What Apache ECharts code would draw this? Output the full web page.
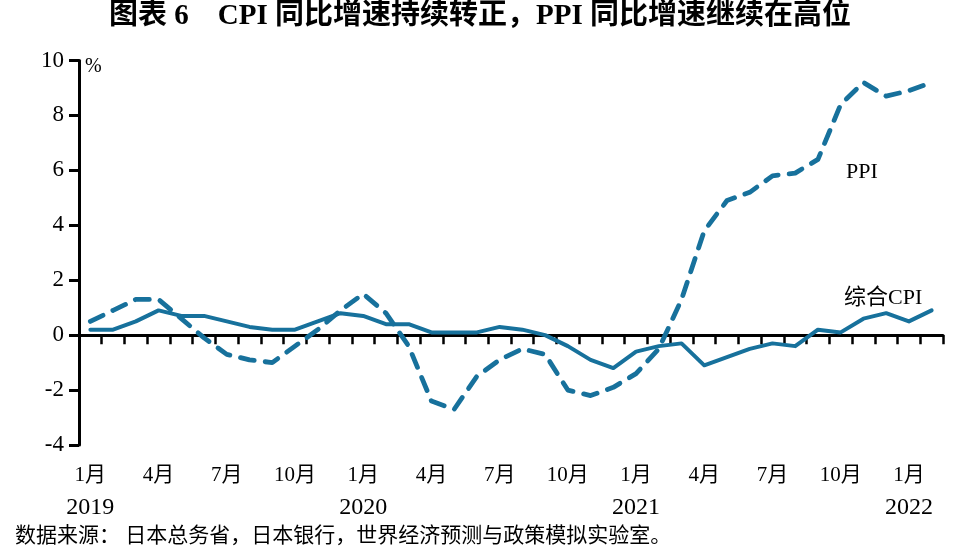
<!DOCTYPE html>
<html>
<head>
<meta charset="utf-8">
<script src="https://cdn.jsdelivr.net/npm/echarts@6/dist/echarts.min.js"></script>
<style>
html,body{margin:0;padding:0;background:#fff;}
#chart{width:960px;height:556px;}
</style>
</head>
<body>
<div id="chart"></div>
<script>
var titleText = '图表 6　CPI 同比增速持续转正，PPI 同比增速继续在高位';
var sourceText = '数据来源： 日本总务省，日本银行，世界经济预测与政策模拟实验室。';
var categories = [
  '1月\n2019','2月','3月','4月','5月','6月','7月','8月','9月','10月','11月','12月',
  '1月\n2020','2月','3月','4月','5月','6月','7月','8月','9月','10月','11月','12月',
  '1月\n2021','2月','3月','4月','5月','6月','7月','8月','9月','10月','11月','12月',
  '1月\n2022','2月'
];
var cpi = [
  0.2, 0.2, 0.5, 0.9, 0.7, 0.7, 0.5, 0.3, 0.2, 0.2, 0.5, 0.8,
  0.7, 0.4, 0.4, 0.1, 0.1, 0.1, 0.3, 0.2, 0.0, -0.4, -0.9, -1.2,
  -0.6, -0.4, -0.3, -1.1, -0.8, -0.5, -0.3, -0.4, 0.2, 0.1, 0.6, 0.8,
  0.5, 0.9
];
var ppi = [
  0.5, 0.9, 1.3, 1.3, 0.6, -0.1, -0.7, -0.9, -1.0, -0.4, 0.2, 0.9,
  1.5, 0.8, -0.4, -2.4, -2.7, -1.5, -0.9, -0.5, -0.7, -2.0, -2.2, -1.9,
  -1.4, -0.5, 1.3, 3.8, 4.9, 5.2, 5.8, 5.9, 6.4, 8.4, 9.2, 8.7,
  8.9, 9.2
];
var yTicks = {min: -4, max: 10, interval: 2};

var serif = "'Liberation Serif','Times New Roman','Noto Sans CJK SC',serif";
var lineColor = '#17719c';

var chart = echarts.init(document.getElementById('chart'), null, {renderer: 'canvas'});
chart.setOption({
  animation: false,
  backgroundColor: '#fff',
  grid: {left: 79, right: 17, top: 60.5, bottom: 111, containLabel: false},
  xAxis: [
    {
      type: 'category',
      position: 'bottom',
      data: categories,
      boundaryGap: true,
      axisLine: {show: false, onZero: false},
      axisTick: {show: false},
      axisLabel: {
        interval: 2,
        margin: 15,
        color: '#000',
        formatter: function (v) {
          var p = v.split('\n');
          return p.length > 1 ? '{m|' + p[0] + '}\n{y|' + p[1] + '}' : '{m|' + p[0] + '}';
        },
        rich: {
          m: {fontFamily: serif, fontSize: 21, lineHeight: 30, color: '#000'},
          y: {fontFamily: serif, fontSize: 24, lineHeight: 36, color: '#000'}
        }
      },
      splitLine: {show: false}
    },
    {
      type: 'category',
      position: 'bottom',
      data: categories,
      boundaryGap: true,
      axisLine: {show: true, onZero: true, lineStyle: {color: '#000', width: 3}},
      axisTick: {show: true, interval: 0, length: 9, lineStyle: {color: '#000', width: 2.5}},
      axisLabel: {show: false},
      splitLine: {show: false}
    }
  ],
  yAxis: {
    type: 'value',
    min: yTicks.min,
    max: yTicks.max,
    interval: yTicks.interval,
    axisLine: {show: true, lineStyle: {color: '#000', width: 3}},
    axisTick: {show: true, length: 10, lineStyle: {color: '#000', width: 3}},
    axisLabel: {fontFamily: serif, fontSize: 23, color: '#000', margin: 15},
    splitLine: {show: false}
  },
  series: [
    {
      name: '综合CPI',
      type: 'line',
      xAxisIndex: 0,
      data: cpi,
      symbol: 'none',
      smooth: false,
      lineStyle: {color: lineColor, width: 4, join: 'round', cap: 'round'},
      z: 3
    },
    {
      name: 'PPI',
      type: 'line',
      xAxisIndex: 0,
      data: ppi,
      symbol: 'none',
      smooth: false,
      lineStyle: {color: lineColor, width: 4.8, type: [14, 11], cap: 'round', join: 'round'},
      z: 4
    }
  ],
  graphic: [
    {
      type: 'text', left: 'center', top: 2,
      style: {text: titleText, font: "bold 29px 'Liberation Serif','Noto Sans CJK SC',serif", fill: '#000'}
    },
    {
      type: 'text', left: 85, top: 57,
      style: {text: '%', font: "20px 'Liberation Serif','Noto Sans CJK SC',serif", fill: '#000'}
    },
    {
      type: 'text', left: 846, top: 161,
      style: {text: 'PPI', font: "22px 'Liberation Serif','Noto Sans CJK SC',serif", fill: '#000'}
    },
    {
      type: 'text', left: 844, top: 287,
      style: {text: '综合CPI', font: "22px 'Liberation Serif','Noto Sans CJK SC',serif", fill: '#000'}
    },
    {
      type: 'text', left: 15, top: 526,
      style: {text: sourceText, font: "21px 'Liberation Serif','Noto Sans CJK SC',serif", fill: '#000'}
    }
  ]
});
</script>
</body>
</html>
